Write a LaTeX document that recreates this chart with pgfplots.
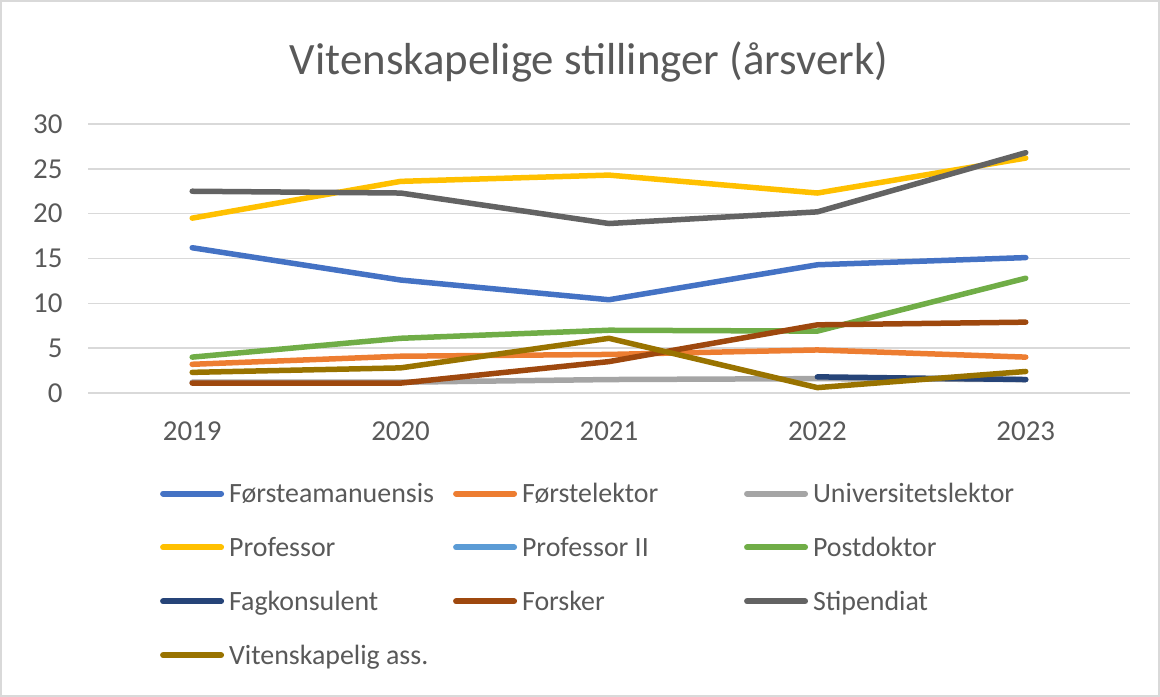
\documentclass[border=0pt]{standalone}
\usepackage{pgfplots}
\pgfplotsset{compat=1.18}
\usepackage{fontspec}
\setmainfont{Carlito}
\definecolor{c1}{HTML}{4472C4}
\definecolor{c2}{HTML}{ED7D31}
\definecolor{c3}{HTML}{A5A5A5}
\definecolor{c4}{HTML}{FFC000}
\definecolor{c5}{HTML}{5B9BD5}
\definecolor{c6}{HTML}{70AD47}
\definecolor{c7}{HTML}{264478}
\definecolor{c8}{HTML}{9E480E}
\definecolor{c9}{HTML}{636363}
\definecolor{c10}{HTML}{997300}
\definecolor{gridc}{HTML}{D9D9D9}
\definecolor{txt}{HTML}{595959}
\begin{document}
\begin{tikzpicture}[x=1bp,y=1bp]
\path[use as bounding box] (0,0) rectangle (1160,697);
\draw[color=gridc, line width=1.5bp] (1,1) rectangle (1159,696);
\node[font=\fontsize{45}{52}\selectfont, text=txt] at (589,635) {Vitenskapelige stillinger (årsverk)};
\begin{axis}[
  at={(88bp,304bp)}, anchor=south west, scale only axis,
  width=1042bp, height=269bp,
  xmin=-0.5, xmax=4.5, ymin=0, ymax=30,
  ytick={0,5,...,30}, xtick={0,1,2,3,4},
  xticklabels={2019,2020,2021,2022,2023},
  ymajorgrids, grid style={color=gridc, line width=1.5bp},
  axis line style={draw=none}, tick style={draw=none},
  ticklabel style={font=\fontsize{29}{34}\selectfont, text=txt},
  /pgf/number format/assume math mode=true,
  yticklabel style={xshift=-22bp},
  xticklabel style={yshift=-25bp},
  every axis plot/.append style={line width=5.5bp, line join=round, line cap=round, no markers},
  legend columns=3,
  legend style={at={(0.069,-0.327)}, anchor=north west, draw=none, fill=none,
    font=\fontsize{28}{33}\selectfont, text=txt,
    /tikz/every even column/.append style={column sep=0bp},
    row sep=29bp, inner sep=0pt},
  legend cell align=left,
  legend image code/.code={\draw[#1, line width=6bp, line cap=round] (0bp,0bp) -- (58bp,0bp);},
]
\addplot[c1] coordinates {(0,16.2) (1,12.6) (2,10.4) (3,14.3) (4,15.1)};
\addlegendentry{\hspace{3bp}\makebox[222bp][l]{Førsteamanuensis}}
\addplot[c2] coordinates {(0,3.2) (1,4.1) (2,4.3) (3,4.8) (4,4.0)};
\addlegendentry{\hspace{3bp}\makebox[220bp][l]{Førstelektor}}
\addplot[c3] coordinates {(0,1.2) (1,1.2) (2,1.5) (3,1.6) (4,1.5)};
\addlegendentry{\hspace{3bp}Universitetslektor}
\addplot[c4] coordinates {(0,19.5) (1,23.6) (2,24.3) (3,22.3) (4,26.2)};
\addlegendentry{\hspace{3bp}\makebox[222bp][l]{Professor}}
\addlegendimage{c5}
\addlegendentry{\hspace{3bp}\makebox[220bp][l]{Professor II}}
\addplot[c6] coordinates {(0,4.0) (1,6.1) (2,7.0) (3,6.9) (4,12.8)};
\addlegendentry{\hspace{3bp}Postdoktor}
\addplot[c7] coordinates {(3,1.8) (4,1.5)};
\addlegendentry{\hspace{3bp}\makebox[222bp][l]{Fagkonsulent}}
\addplot[c8] coordinates {(0,1.1) (1,1.1) (2,3.5) (3,7.6) (4,7.9)};
\addlegendentry{\hspace{3bp}\makebox[220bp][l]{Forsker}}
\addplot[c9] coordinates {(0,22.5) (1,22.3) (2,18.9) (3,20.2) (4,26.8)};
\addlegendentry{\hspace{3bp}Stipendiat}
\addplot[c10] coordinates {(0,2.3) (1,2.8) (2,6.1) (3,0.6) (4,2.4)};
\addlegendentry{\hspace{3bp}Vitenskapelig ass.}
\end{axis}
\end{tikzpicture}
\end{document}
